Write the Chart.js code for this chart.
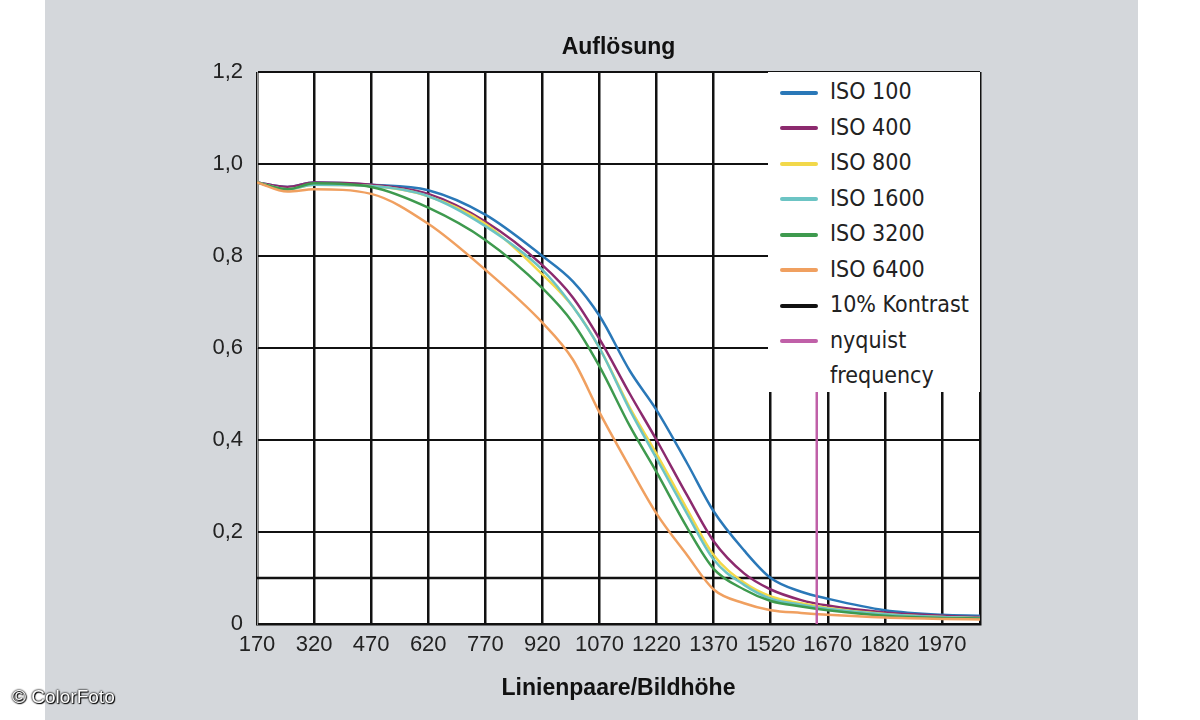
<!DOCTYPE html>
<html><head><meta charset="utf-8">
<script src="https://cdn.jsdelivr.net/npm/chart.js@4"></script>
<style>
html,body{margin:0;padding:0;background:#fff;}
#wrap{position:relative;width:1200px;height:720px;}
#legend{position:absolute;left:768px;top:72px;width:212px;height:320px;background:#fff;font-family:"Liberation Sans Narrow","DejaVu Sans Condensed",Arial,sans-serif;font-size:23px;color:#222;}
.it{position:absolute;left:12px;height:30px;line-height:30px;}
.it span.sw{display:inline-block;width:38px;height:4px;vertical-align:middle;margin-right:12px;border-radius:2px;}
#copy{position:absolute;left:12px;top:686px;font-family:"Liberation Sans",Arial,sans-serif;font-size:19px;color:#fff;text-shadow:0 0 2px #000,0 0 2px #000,1px 1px 1px #000;}
</style></head><body>
<div id="wrap"><canvas id="c" width="1200" height="720"></canvas>
<div id="legend"></div>
<div id="copy">© ColorFoto</div></div>
<script>
const xValues = [170,250,320,470,620,770,920,1000,1070,1150,1220,1300,1370,1450,1520,1600,1670,1820,1970,2070];
const iso100  = [0.96,0.95,0.96,0.955,0.943,0.89,0.80,0.745,0.67,0.55,0.465,0.35,0.245,0.16,0.10,0.07,0.055,0.03,0.02,0.018];
const iso400  = [0.96,0.95,0.96,0.955,0.935,0.875,0.78,0.71,0.62,0.50,0.40,0.28,0.18,0.11,0.075,0.052,0.04,0.025,0.018,0.015];
const iso800  = [0.96,0.945,0.955,0.952,0.93,0.87,0.76,0.69,0.60,0.47,0.37,0.25,0.15,0.09,0.06,0.045,0.035,0.022,0.015,0.013];
const iso1600 = [0.96,0.945,0.955,0.952,0.93,0.865,0.77,0.69,0.60,0.465,0.36,0.24,0.14,0.085,0.055,0.042,0.033,0.021,0.015,0.013];
const iso3200 = [0.96,0.945,0.958,0.95,0.905,0.835,0.73,0.655,0.56,0.43,0.33,0.21,0.12,0.075,0.05,0.038,0.03,0.018,0.013,0.012];
const iso6400 = [0.96,0.94,0.945,0.935,0.87,0.77,0.655,0.575,0.46,0.34,0.24,0.15,0.075,0.045,0.03,0.024,0.02,0.014,0.011,0.01];
const contrastLevel = 0.1;
const nyquistX = 1641;
const seriesNames = ["ISO 100","ISO 400","ISO 800","ISO 1600","ISO 3200","ISO 6400"];
const seriesColors = ["#2a78b8","#8c2a6e","#f2d84a","#6cc4c4","#3e9a4e","#f0a060"];
const yTicks = [0,0.2,0.4,0.6,0.8,1.0,1.2];

const seriesData = [iso100,iso400,iso800,iso1600,iso3200,iso6400];
const datasets = seriesData.map((arr,i)=>({
  data: xValues.map((x,j)=>({x, y: arr[j]})),
  borderColor: seriesColors[i], borderWidth: 2.5, pointRadius: 0,
  cubicInterpolationMode:'monotone', fill:false, order: 6-i
}));
datasets.push({data:[{x:170,y:contrastLevel},{x:2070,y:contrastLevel}],borderColor:'#111',borderWidth:2.5,pointRadius:0,order:20});
datasets.push({data:[{x:nyquistX,y:0},{x:nyquistX,y:0.6}],borderColor:'#c060a8',borderWidth:2.5,pointRadius:0,order:0});

const bgPlugin = {
  id:'bg',
  beforeDraw(ch){
    const c=ch.ctx, a=ch.chartArea;
    c.save();
    c.fillStyle='#fff'; c.fillRect(0,0,1200,720);
    c.fillStyle='#d4d7db'; c.fillRect(45,0,1093,720);
    c.fillStyle='#fff'; c.fillRect(a.left,a.top,a.right-a.left,a.bottom-a.top);
    c.restore();
  },
  afterDraw(ch){
    const c=ch.ctx, a=ch.chartArea;
    c.save();
    c.fillStyle='#111'; c.textAlign='center'; c.textBaseline='middle';
    c.font='bold 23px "Liberation Sans", Arial, sans-serif';
    c.fillText('Auflösung',(a.left+a.right)/2,48);
    c.fillText('Linienpaare/Bildhöhe',(a.left+a.right)/2,689);
    c.restore();
  }
};

new Chart(document.getElementById('c'),{
  type:'line',
  data:{datasets},
  plugins:[bgPlugin],
  options:{
    responsive:false, animation:false, devicePixelRatio:1,
    layout:{padding:{left:0,top:72,right:220,bottom:0}},
    plugins:{legend:{display:false},tooltip:{enabled:false},title:{display:false}},
    scales:{
      x:{type:'linear',min:170,max:2070,
        afterFit(s){s.height=96;},
        afterBuildTicks(s){s.ticks=[];for(let v=170;v<=1970;v+=150)s.ticks.push({value:v});s.ticks.push({value:2070});},
        ticks:{color:'#222',font:{family:'"Liberation Sans Narrow","Liberation Sans",Arial',size:22},padding:8,maxRotation:0,autoSkip:false,
          callback:(v)=> v===2070?'':String(v)},
        grid:{color:'#111',lineWidth:2.5,drawTicks:false},
        border:{display:true,color:'#111',width:2.5}
      },
      y:{min:0,max:1.2,
        afterFit(s){s.width=257;},
        afterBuildTicks(s){s.ticks=yTicks.map(v=>({value:v}));},
        ticks:{color:'#222',font:{family:'"Liberation Sans Narrow","Liberation Sans",Arial',size:22},padding:14,
          callback:(v)=> v===0?'0':v.toFixed(1).replace('.',',')},
        grid:{color:'#111',lineWidth:2,drawTicks:false},
        border:{display:true,color:'#999',width:1}
      }
    }
  }
});

const lg=document.getElementById('legend');
const items=seriesNames.map((n,i)=>[n,seriesColors[i]]).concat([["10% Kontrast","#111"],["nyquist","#c060a8"]]);
items.forEach((it,i)=>{
  const d=document.createElement('div'); d.className='it'; d.style.top=(4+i*35.5)+'px';
  d.innerHTML='<span class="sw" style="background:'+it[1]+'"></span>'+it[0]; lg.appendChild(d);
});
const f=document.createElement('div'); f.className='it'; f.style.top=(4+8*35.5)+'px'; f.style.left='62px'; f.textContent='frequency'; lg.appendChild(f);
</script></body></html>
